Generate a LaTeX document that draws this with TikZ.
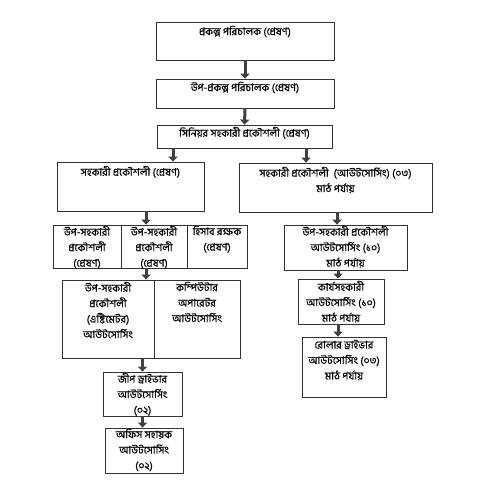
\documentclass[tikz,border=0pt]{standalone}
\usepackage{fontspec}
\usepackage{tikz}
\usetikzlibrary{arrows.meta}
\newfontfamily\bnfont[Script=Bengali, FakeBold=0.5]{Hind Siliguri}

\tikzset{
  unit/.style={draw=black!80, line width=0.8pt, inner sep=0pt},
  caption/.style={anchor=north, align=center, inner sep=0pt, yshift=-4pt,
                  font=\bnfont\fontsize{10.5}{15.5}\selectfont},
  flow/.style={draw=black!75, line width=3pt, -{Triangle[width=9pt,length=5pt]}}
}

\begin{document}
\begin{tikzpicture}[x=1pt, y=-1pt]
                \useasboundingbox[fill=white] (0,0) rectangle (490,500);

                % Top boxes
                \node[unit, minimum width=178, minimum height=38] (pd)  at (245,41)    {};
                \node[unit, minimum width=178, minimum height=29] (dpd) at (245,93.5)  {};
                \node[unit, minimum width=175, minimum height=23] (sae) at (244.5,136.5) {};
                \node[caption] (pd-t)  at (pd.north)  {প্রকল্প পরিচালক (প্রেষণ)};
                \node[caption, yshift=1pt] (dpd-t) at (dpd.north) {উপ-প্রকল্প পরিচালক (প্রেষণ)};
                \node[caption, yshift=2pt] (sae-t) at (sae.north) {সিনিয়র সহকারী প্রকৌশলী (প্রেষণ)};

                % Second level
                \node[unit, minimum width=147, minimum height=49] (ae)  at (130.5,186.5) {};
                \node[unit, minimum width=193, minimum height=49] (aeo) at (335.5,187.5) {};
                \node[caption] (ae-t)  at (ae.north)  {সহকারী প্রকৌশলী (প্রেষণ)};
                \node[caption] (aeo-t) at (aeo.north) {সহকারী প্রকৌশলী~ (আউটসোর্সিং) (০৩)\\মাঠ পর্যায়};

                % Left branch, row of three
                \node[unit, minimum width=68, minimum height=43] (sa1) at (87,246.5)  {};
                \node[unit, minimum width=66, minimum height=43] (sa2) at (154,246.5) {};
                \node[unit, minimum width=60, minimum height=43] (acc) at (217,246.5) {};
                \node[caption, yshift=3pt] (sa1-t) at (sa1.north) {উপ-সহকারী\\প্রকৌশলী\\(প্রেষণ)};
                \node[caption, yshift=3pt] (sa2-t) at (sa2.north) {উপ-সহকারী\\প্রকৌশলী\\(প্রেষণ)};
                \node[caption, yshift=3pt] (acc-t) at (acc.north) {হিসাব রক্ষক\\(প্রেষণ)};

                % Left branch, split box
                \node[unit, minimum width=92, minimum height=78] (est) at (108,319) {};
                \node[unit, minimum width=86, minimum height=78] (cop) at (197,319) {};
                \node[caption, yshift=2pt] (est-t) at (est.north) {উপ-সহকারী\\প্রকৌশলী\\(এষ্টিমেটর)\\আউটসোর্সিং};
                \node[caption, yshift=2pt] (cop-t) at (cop.north) {কম্পিউটার\\অপারেটর\\আউটসোর্সিং};

                % Left branch, bottom
                \node[unit, minimum width=79, minimum height=44] (jd) at (142.5,394)  {};
                \node[unit, minimum width=78, minimum height=45] (oa) at (144,450.5)  {};
                \node[caption, yshift=3pt] (jd-t) at (jd.north) {জীপ ড্রাইভার\\আউটসোর্সিং\\(০২)};
                \node[caption, yshift=3pt] (oa-t) at (oa.north) {অফিস সহায়ক\\আউটসোর্সিং\\(০২)};

                % Right branch
                \node[unit, minimum width=123, minimum height=45] (sao) at (345.5,247.5) {};
                \node[unit, minimum width=86, minimum height=45]  (wa)  at (341,301.5)   {};
                \node[unit, minimum width=84, minimum height=60]  (rd)  at (344,367)     {};
                \node[caption, yshift=3pt] (sao-t) at (sao.north) {উপ-সহকারী প্রকৌশলী\\আউটসোর্সিং (১০)\\মাঠ পর্যায়};
                \node[caption, yshift=2pt] (wa-t)  at (wa.north)  {কার্যসহকারী\\আউটসোর্সিং (১০)\\মাঠ পর্যায়};
                \node[caption, yshift=1pt] (rd-t)  at (rd.north)  {রোলার ড্রাইভার\\আউটসোর্সিং (০৩)\\মাঠ পর্যায়};

                % Arrows
                \draw[flow] (pd.south) -- (dpd.north);
                \draw[flow] (dpd.south) -- (sae.north);
                \draw[flow] (173,0 |- sae.south) -- (173,0 |- ae.north);
                \draw[flow] (306,0 |- sae.south) -- (306,0 |- aeo.north);
                \draw[flow] (146,0 |- ae.south) -- (146,0 |- sa2.north);
                \draw[flow] (337,0 |- aeo.south) -- (337,0 |- sao.north);
                \draw[flow] (146,0 |- sa2.south) -- (146,0 |- est.north);
                \draw[flow] (338,0 |- sao.south) -- (338,0 |- wa.north);
                \draw[flow] (338,0 |- wa.south) -- (338,0 |- rd.north);
                \draw[flow] (est.south -| jd.north) -- (jd.north);
                \draw[flow] (jd.south) -- (142.5,0 |- oa.north);
            \end{tikzpicture}
\end{document}
